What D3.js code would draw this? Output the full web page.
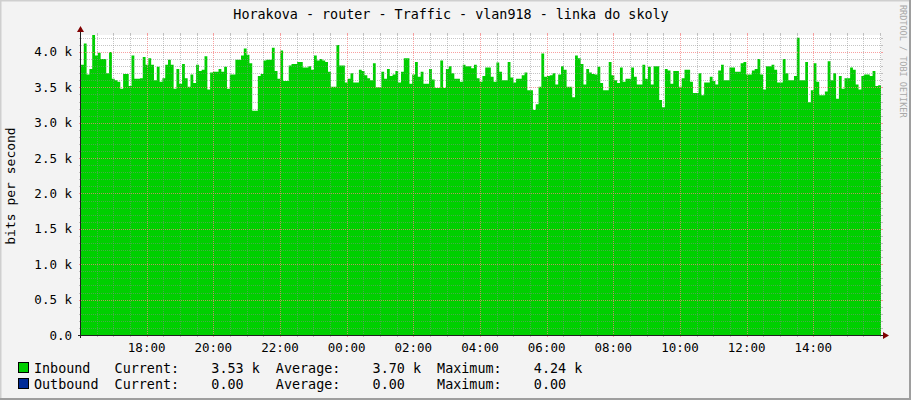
<!DOCTYPE html>
<html><head><meta charset="utf-8">
<script src="https://cdn.jsdelivr.net/npm/d3@7"></script>
<style>
html,body{margin:0;padding:0;background:#f3f3f3;}
text{font-family:"DejaVu Sans Mono",monospace;}
</style></head>
<body><svg id="chart" width="911" height="400"></svg>
<script>
// ---- data (5-minute samples, bits per second, in k) ----
const inbound = [
3.82,4.12,3.68,3.76,4.24,3.95,3.99,3.90,3.90,3.70,4.00,3.62,3.60,3.58,3.48,3.69,3.69,3.52,3.95,3.62,3.62,3.63,3.93,3.82,3.91,3.82,3.60,3.79,3.58,3.63,3.82,3.89,3.82,3.48,3.76,3.55,3.83,3.63,3.51,3.68,3.56,3.82,3.73,3.75,3.94,3.47,
3.71,3.72,3.72,3.76,3.72,3.79,3.48,3.68,3.68,3.89,3.89,3.95,4.05,3.96,3.84,3.17,3.17,3.66,3.69,3.88,3.89,3.89,4.06,3.73,3.62,4.02,3.59,3.59,3.81,3.83,3.83,3.86,3.86,3.78,3.78,3.80,3.75,3.95,3.88,3.90,3.88,3.86,3.72,3.51,3.51,4.10,3.81,3.81,
3.57,3.62,3.70,3.57,3.57,3.75,3.73,3.67,3.63,3.60,3.84,3.50,3.50,3.72,3.62,3.76,3.66,3.68,3.73,3.57,3.72,3.91,3.91,3.55,3.68,3.86,3.65,3.72,3.55,3.55,3.76,3.61,3.49,3.49,3.88,3.49,3.76,3.80,3.70,3.62,3.62,3.58,3.82,3.80,3.80,3.77,3.82,3.63,
3.58,3.66,3.78,3.78,3.65,3.58,3.85,3.72,3.60,3.60,3.86,3.64,3.57,3.62,3.62,3.67,3.71,3.46,3.46,3.18,3.26,3.51,3.98,3.65,3.66,3.67,3.70,3.54,3.68,3.80,3.75,3.51,3.51,3.36,3.95,3.91,3.83,3.54,3.76,3.71,3.69,3.68,3.79,3.56,3.46,3.46,3.86,3.67,3.60,
3.56,3.78,3.58,3.62,3.62,3.78,3.65,3.54,3.54,3.82,3.62,3.79,3.54,3.80,3.80,3.32,3.22,3.76,3.74,3.55,3.73,3.73,3.51,3.63,3.75,3.75,3.58,3.42,3.42,3.70,3.39,3.57,3.57,3.65,3.59,3.54,3.74,3.82,3.60,3.60,3.78,3.78,3.72,3.72,3.84,3.86,3.68,3.68,
3.74,3.76,3.90,3.68,3.47,3.80,3.80,3.82,3.75,3.57,3.57,3.90,3.70,3.60,3.60,3.66,4.20,3.60,3.60,3.86,3.29,3.46,3.84,3.58,3.39,3.39,3.44,3.87,3.60,3.70,3.34,3.66,3.48,3.63,3.63,3.78,3.75,3.54,3.47,3.66,3.68,3.68,3.66,3.73,3.52,3.53
];
const yTicks = [0,0.5,1.0,1.5,2.0,2.5,3.0,3.5,4.0];
const yTickLabels = ["0.0","0.5 k","1.0 k","1.5 k","2.0 k","2.5 k","3.0 k","3.5 k","4.0 k"];
const xTickHours = [18,20,22,24,26,28,30,32,34,36,38];
const xTickLabels = ["18:00","20:00","22:00","00:00","02:00","04:00","06:00","08:00","10:00","12:00","14:00"];
const seriesNames = ["Inbound","Outbound"];
const seriesColors = ["#00CF00","#002A97"];
const statCurrent = ["3.53","0.00"];
const statAverage = ["3.70","0.00"];
const statMaximum = ["4.24","0.00"];
const statUnits = ["k",""];
const title = "Horakova - router - Traffic - vlan918 - linka do skoly";
const yTitle = "bits per second";
const watermark = "RRDTOOL / TOBI OETIKER";

// ---- layout ----
const W = 911, H = 400;
const X0 = 81, X1 = 881, Y0 = 335, Y1 = 35;
const svg = d3.select("#chart");

const base = new Date(2024,0,1,0,0,0);
const t = h => new Date(base.getTime() + h*3600e3);
const tStart = t(16 + 1.8/60), tEnd = t(40 + 1.8/60);
const x = d3.scaleTime().domain([tStart,tEnd]).range([X0,X1]);
const y = d3.scaleLinear().domain([0, d3.max(inbound)]).range([Y0,Y1]);

// background + frame
svg.append("rect").attr("width",W).attr("height",H).attr("fill","#f3f3f3");
svg.append("line").attr("x1",0).attr("y1",0.5).attr("x2",W).attr("y2",0.5).attr("stroke","#cfcfcf").attr("stroke-width",2);
svg.append("line").attr("x1",0.5).attr("y1",0).attr("x2",0.5).attr("y2",H).attr("stroke","#cfcfcf").attr("stroke-width",2);
svg.append("line").attr("x1",0).attr("y1",H-1).attr("x2",W).attr("y2",H-1).attr("stroke","#9e9e9e").attr("stroke-width",2);
svg.append("line").attr("x1",W-1).attr("y1",0).attr("x2",W-1).attr("y2",H).attr("stroke","#9e9e9e").attr("stroke-width",2);

// canvas
svg.append("rect").attr("x",X0).attr("y",Y1).attr("width",X1-X0).attr("height",Y0-Y1).attr("fill","#ffffff");

// area
const step = (tEnd - tStart)/inbound.length;
const pts = inbound.map((v,i)=>({t:new Date(tStart.getTime()+i*step), v}));
pts.push({t:tEnd, v:inbound[inbound.length-1]});
svg.append("path").datum(pts)
  .attr("fill",seriesColors[0])
  .attr("d", d3.area().curve(d3.curveStepAfter).x(d=>x(d.t)).y0(y(0)).y1(d=>y(d.v)));

// grid
const gridG = svg.append("g");
const minorGrid = "rgba(140,140,140,0.5)", majorGrid = "rgba(245,128,128,0.75)";
const yMinor = d3.range(0, 43).map(i=>i/10).filter(v=>v<=d3.max(inbound));
yMinor.forEach(v=>{
  const major = yTicks.some(m=>Math.abs(m-v)<1e-6);
  const yy = Math.round(y(v))+0.5;
  const c = major? majorGrid: minorGrid;
  if(v>0) gridG.append("line").attr("x1",X0).attr("x2",X1).attr("y1",yy).attr("y2",yy)
    .attr("stroke",c).attr("stroke-dasharray","1,1");
  gridG.append("line").attr("x1",X0-2).attr("x2",X0).attr("y1",yy).attr("y2",yy).attr("stroke",c);
  gridG.append("line").attr("x1",X1).attr("x2",X1+2).attr("y1",yy).attr("y2",yy).attr("stroke",c);
});
const vMinor = d3.range(16.5*2, 40*2+1).map(i=>i/2).filter(h=>x(t(h))>X0 && x(t(h))<X1);
vMinor.forEach(h=>{
  const major = xTickHours.includes(h);
  const xx = Math.round(x(t(h)))+0.5;
  const c = major? majorGrid: minorGrid;
  gridG.append("line").attr("x1",xx).attr("x2",xx).attr("y1",Y1).attr("y2",Y0)
    .attr("stroke",c).attr("stroke-dasharray","1,1");
  gridG.append("line").attr("x1",xx).attr("x2",xx).attr("y1",Y1-2).attr("y2",Y1).attr("stroke",c);
  gridG.append("line").attr("x1",xx).attr("x2",xx).attr("y1",Y0).attr("y2",Y0+2).attr("stroke",c);
});

// axes
svg.append("line").attr("x1",X0-0.5).attr("x2",X0-0.5).attr("y1",Y0+3).attr("y2",Y1-4).attr("stroke","#202020");
svg.append("line").attr("x1",X0-3).attr("x2",X1+4).attr("y1",Y0+0.5).attr("y2",Y0+0.5).attr("stroke","#202020");
svg.append("path").attr("d",`M${X0-4},${Y1-3}L${X0+3},${Y1-3}L${X0-0.5},${Y1-9}Z`).attr("fill","#800000");
svg.append("path").attr("d",`M${X1+2},${Y0-3}L${X1+2},${Y0+4}L${X1+8},${Y0+0.5}Z`).attr("fill","#800000");

// y labels
yTicks.forEach((v,i)=>{
  svg.append("text").attr("x",72).attr("y",y(v)+4.5).attr("text-anchor","end")
    .attr("font-size",12.5).attr("fill","#000").text(yTickLabels[i]);
});
// x labels
xTickHours.forEach((h,i)=>{
  svg.append("text").attr("x",x(t(h))).attr("y",352).attr("text-anchor","middle")
    .attr("font-size",12.5).attr("fill","#000").text(xTickLabels[i]);
});
// title
svg.append("text").attr("x",451).attr("y",19).attr("text-anchor","middle")
  .attr("font-size",13.4).attr("fill","#000").text(title);
// y title
svg.append("text").attr("transform","translate(15,186) rotate(-90)").attr("text-anchor","middle")
  .attr("font-size",13).attr("fill","#000").text(yTitle);
// watermark
svg.append("text").attr("transform","translate(900,5) rotate(90)").attr("text-anchor","start")
  .attr("font-size",8.5).attr("fill","#a8a8a8").text(watermark);

// legend
const pad = (s,n)=> s + " ".repeat(Math.max(0,n-s.length));
const stat = (v,u)=> (v.padStart(8," ") + " " + u).padEnd(12," ");
seriesNames.forEach((name,i)=>{
  const yy = 368 + i*16;
  svg.append("rect").attr("x",18.5).attr("y",yy-5.5).attr("width",10).attr("height",10)
    .attr("fill",seriesColors[i]).attr("stroke","#000");
  const line = pad(name,10) + "Current:" + stat(statCurrent[i],statUnits[i])
    + "Average:" + stat(statAverage[i],statUnits[i])
    + "Maximum:" + stat(statMaximum[i],statUnits[i]);
  svg.append("text").attr("x",34).attr("y",yy+4.5).attr("font-size",13.4).attr("fill","#000")
    .attr("xml:space","preserve").style("white-space","pre").text(line.trimEnd());
});
</script></body></html>
